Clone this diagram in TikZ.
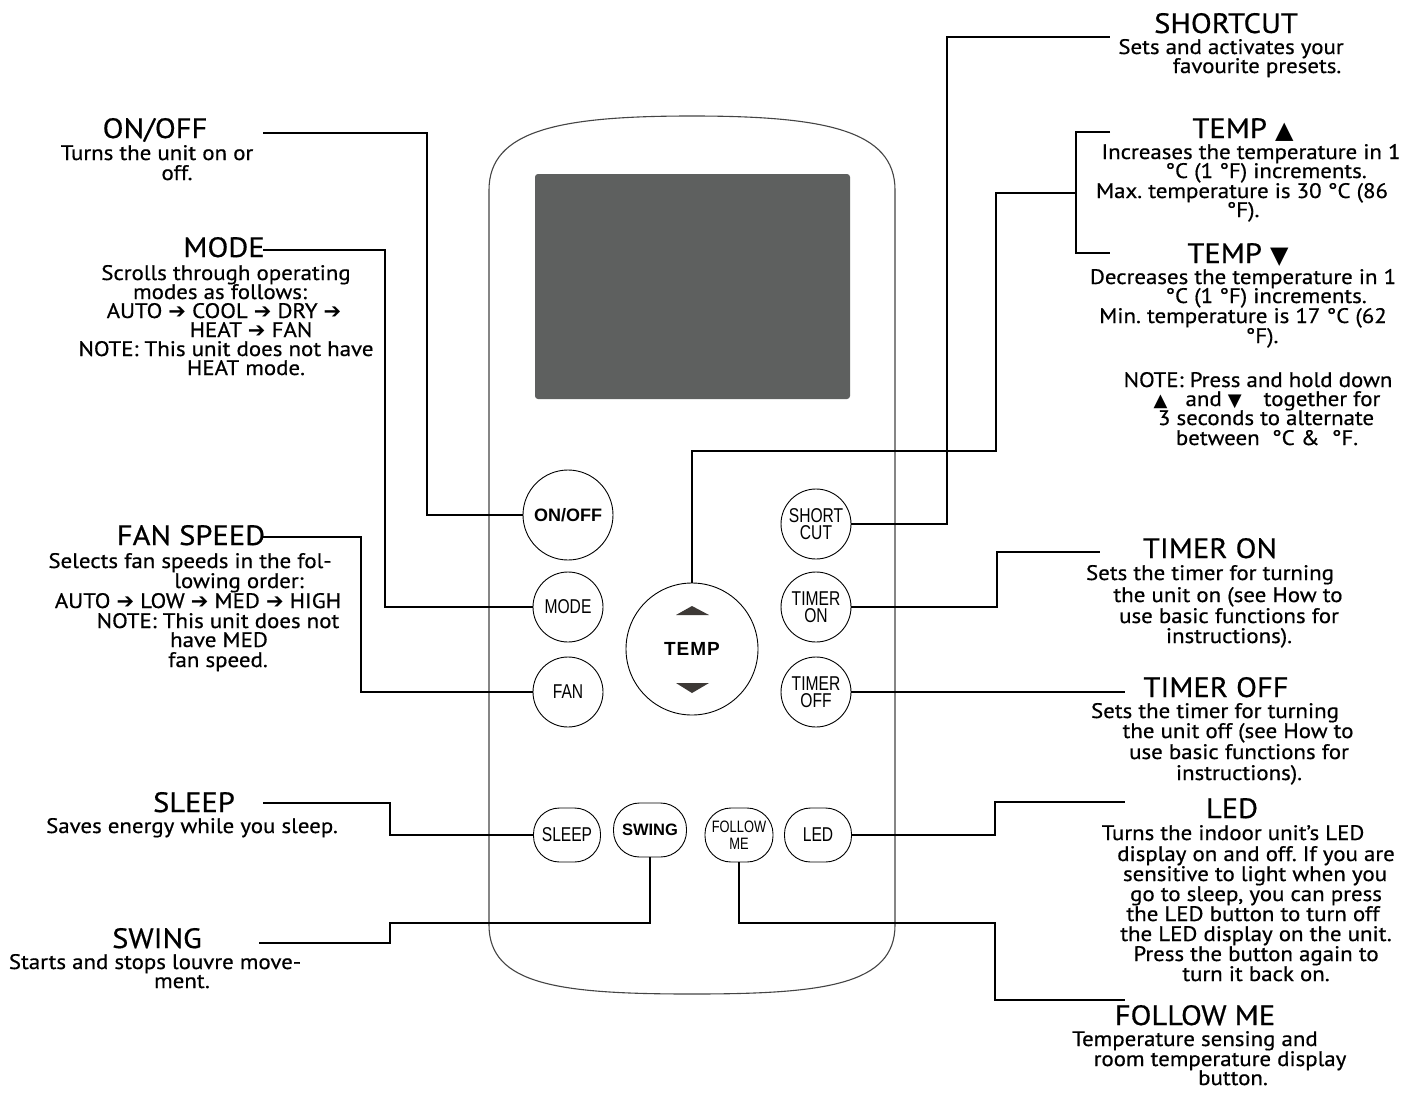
\documentclass[tikz,border=0pt]{standalone}
\usepackage{fontspec}
\setmainfont{PT Sans}[FakeStretch=1.09, FakeBold=0.6]
\newfontfamily\dv{DejaVu Sans}
\newfontfamily\btnf[FakeStretch=0.78]{Liberation Sans}
\newfontfamily\btnbold{Liberation Sans Bold}
\usetikzlibrary{shapes.geometric}
\frenchspacing
\newcommand\bodyf{\fontsize{21}{21}\selectfont}
\newcommand\ttlf{\fontsize{28}{28}\selectfont}
\newcommand\arr{{\dv ➔}}
\definecolor{screen}{HTML}{5E605F}
\definecolor{tri}{HTML}{3D3936}
\definecolor{outline}{HTML}{444444}
\tikzset{
  txt/.style={anchor=base, inner sep=0pt, font=\bodyf, text height=14.5pt, text depth=3.5pt},
  ttl/.style={anchor=base, inner sep=0pt, font=\ttlf, text height=19.5pt, text depth=1pt},
  btn/.style={circle, draw=black, line width=0.9pt, minimum size=70pt, inner sep=0pt, align=center,
              font=\btnf\fontsize{20}{17.5}\selectfont},
  pill/.style={rectangle, rounded corners=26pt, draw=black, line width=0.9pt, minimum width=67pt,
               minimum height=54pt, inner sep=0pt, align=center, font=\btnf\fontsize{20}{17}\selectfont},
  conn/.style={draw=black, line width=1.3pt},
}
\begin{document}
\begin{tikzpicture}[x=1pt,y=-1pt]
\useasboundingbox (0,0) rectangle (1415,1092);
\fill[white] (0,0) rectangle (1415,1092);

% remote body
\draw[outline, line width=1.1pt] (489,190) .. controls (489,130) and (560,116) .. (692,116)
   .. controls (824,116) and (895,130) .. (895,190) -- (895,925)
   .. controls (895,985) and (824,994) .. (692,994)
   .. controls (560,994) and (489,985) .. (489,925) -- cycle;
\fill[screen, rounded corners=3pt] (535,174) rectangle (850,399);

% buttons
\node[btn, minimum size=90pt, font=\btnbold\fontsize{18}{18}\selectfont] (onoff) at (568,515) {ON/OFF};
\node[btn] (mode) at (568,607) {MODE};
\node[btn] (fan) at (568,692) {FAN};
\node[btn, minimum size=132pt, font=\btnbold\fontsize{19}{19}\selectfont] (temp) at (692,649) {T\kern1pt E\kern1pt M\kern1pt P};
\fill[tri] (676,615) -- (709,615) -- (692,606) -- cycle;
\fill[tri] (676,683) -- (709,683) -- (692,693) -- cycle;
\node[btn] (shortcut) at (816,524) {SHORT\\CUT};
\node[btn] (timeron) at (816,607) {TIMER\\ON};
\node[btn] (timeroff) at (816,692) {TIMER\\OFF};
\node[pill] (sleep) at (567,835) {SLEEP};
\node[pill, minimum width=73pt, font=\btnbold\fontsize{16.5}{16.5}\selectfont] (swing) at (650,830) {SWING};
\node[pill, minimum width=68pt, font=\btnf\fontsize{16.5}{16.7}\selectfont] (follow) at (739,835) {FOLLOW\\ME};
\node[pill] (led) at (818,835) {LED};

% connector free ends
\coordinate (cOn) at (263,133);
\coordinate (cMo) at (263,250);
\coordinate (cFa) at (263,537);
\coordinate (cSl) at (263,803);
\coordinate (cSw) at (259,943);
\coordinate (cSc) at (1110,37);
\coordinate (cTu) at (1110,132);
\coordinate (cTd) at (1110,253);
\coordinate (cTn) at (1100,552);
\coordinate (cTf) at (1125,692);
\coordinate (cLe) at (1125,802);
\coordinate (cFm) at (1125,1000);

% connectors
\draw[conn] (cOn) -- (427,133) |- (onoff.west);
\draw[conn] (cMo) -- (385,250) |- (mode.west);
\draw[conn] (cFa) -- (361,537) |- (fan.west);
\draw[conn] (cSl) -- (390,803) |- (sleep.west);
\draw[conn] (cSw) -- (390,943) -- (390,923) -| (swing.south);
\draw[conn] (follow.south) |- (995,923) |- (cFm);
\draw[conn] (led.east) -| (995,802) -- (cLe);
\draw[conn] (timeroff.east) -- (cTf);
\draw[conn] (timeron.east) -| (997,552) -- (cTn);
\draw[conn] (shortcut.east) -| (947,37) -- (cSc);
\draw[conn] (temp.north) |- (996,451) -- (996,193) -- (1076,193);
\draw[conn] (cTu) -- (1076,132) -- (1076,253) -- (cTd);

% left labels
\node[ttl] (onT) at (155,138) {ON/OFF};
\node[txt] (on1) at (157,160) {Turns the unit on or};
\node[txt] (on2) at (177,180) {off.};

\node[ttl] (moT) at (224,257) {MODE};
\node[txt] (mo1) at (226,280) {Scrolls through operating};
\node[txt] (mo2) at (220,299) {modes as follows:};
\node[txt] (mo3) at (224,318) {AUTO \arr{} COOL \arr{} DRY \arr};
\node[txt] (mo4) at (251,337) {HEAT \arr{} FAN};
\node[txt] (mo5) at (226,356) {NOTE: This unit does not have};
\node[txt] (mo6) at (246,375) {HEAT mode.};

\node[ttl] (faT) at (191,545) {FAN SPEED};
\node[txt] (fa1) at (190,568) {Selects fan speeds in the fol-};
\node[txt] (fa2) at (239,588) {lowing order:};
\node[txt] (fa3) at (198,608) {AUTO \arr{} LOW \arr{} MED \arr{} HIGH};
\node[txt] (fa4) at (218,628) {NOTE: This unit does not};
\node[txt] (fa5) at (219,647) {have MED};
\node[txt] (fa6) at (218,667) {fan speed.};

\node[ttl] (slT) at (194,812) {SLEEP};
\node[txt] (sl1) at (192,833) {Saves energy while you sleep.};

\node[ttl] (swT) at (157,948) {SWING};
\node[txt] (sw1) at (155,969) {Starts and stops louvre move-};
\node[txt] (sw2) at (182,988) {ment.};

% right labels
\node[ttl] (scT) at (1226,33) {SHORTCUT};
\node[txt] (sc1) at (1231,54) {Sets and activates your};
\node[txt] (sc2) at (1257,73) {favourite presets.};

\node[ttl] (tuT) at (1243,138) {TEMP {\dv\fontsize{24}{24}\selectfont ▲}};
\node[txt] (tu1) at (1251,159) {Increases the temperature in 1};
\node[txt] (tu2) at (1266,178) {°C (1 °F) increments.};
\node[txt] (tu3) at (1242,198) {Max. temperature is 30 °C (86};
\node[txt] (tu4) at (1243,217) {°F).};

\node[ttl] (tdT) at (1238,263) {TEMP {\dv\fontsize{24}{24}\selectfont ▼}};
\node[txt] (td1) at (1243,284) {Decreases the temperature in 1};
\node[txt] (td2) at (1266,303) {°C (1 °F) increments.};
\node[txt] (td3) at (1243,323) {Min. temperature is 17 °C (62};
\node[txt] (td4) at (1262,343) {°F).};

\node[txt] (nt1) at (1258,387) {NOTE: Press and hold down};
\node[txt] (nt2) at (1267,406) {{\dv\fontsize{18}{18}\selectfont ▲}\hspace{18pt}and {\dv\fontsize{18}{18}\selectfont ▼}\hspace{22pt}together for};
\node[txt] (nt3) at (1266,425) {3 seconds to alternate};
\node[txt] (nt4) at (1267,445) {between \ °C \& \ °F.};

\node[ttl] (tnT) at (1210,558) {TIMER ON};
\node[txt] (tn1) at (1210,580) {Sets the timer for turning};
\node[txt] (tn2) at (1228,602) {the unit on (see How to};
\node[txt] (tn3) at (1229,623) {use basic functions for};
\node[txt] (tn4) at (1229,643) {instructions).};

\node[ttl] (tfT) at (1216,697) {TIMER OFF};
\node[txt] (tf1) at (1215,718) {Sets the timer for turning};
\node[txt] (tf2) at (1238,738) {the unit off (see How to};
\node[txt] (tf3) at (1239,759) {use basic functions for};
\node[txt] (tf4) at (1239,780) {instructions).};

\node[ttl] (leT) at (1232,818) {LED};
\node[txt] (le1) at (1233,840) {Turns the indoor unit's LED};
\node[txt] (le2) at (1256,861) {display on and off. If you are};
\node[txt] (le3) at (1255,881) {sensitive to light when you};
\node[txt] (le4) at (1256,901) {go to sleep, you can press};
\node[txt] (le5) at (1253,921) {the LED button to turn off};
\node[txt] (le6) at (1256,941) {the LED display on the unit.};
\node[txt] (le7) at (1256,961) {Press the button again to};
\node[txt] (le8) at (1256,981) {turn it back on.};

\node[ttl] (fmT) at (1195,1025) {FOLLOW ME};
\node[txt] (fm1) at (1195,1046) {Temperature sensing and};
\node[txt] (fm2) at (1220,1066) {room temperature display};
\node[txt] (fm3) at (1233,1085) {button.};
\end{tikzpicture}
\end{document}
